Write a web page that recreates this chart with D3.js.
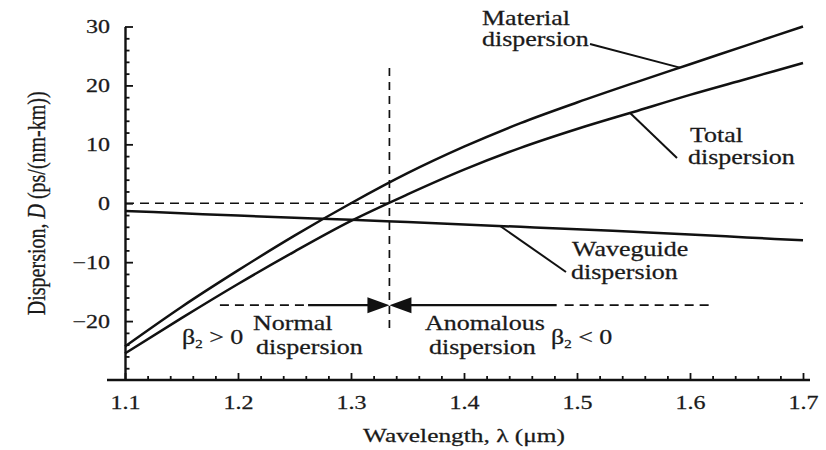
<!DOCTYPE html>
<html>
<head>
<meta charset="utf-8">
<script src="https://cdn.jsdelivr.net/npm/d3@7"></script>
<style>
  html, body { margin: 0; padding: 0; background: #fff; }
  svg { display: block; }
  text { font-family: "Liberation Serif", "Times New Roman", serif; fill: #1a1a1a; stroke: #1a1a1a; stroke-width: 0.25; }
</style>
</head>
<body>
<svg id="chart" width="826" height="450"></svg>
<script>
// ---- data ----
const wavelengths = [1.10, 1.15, 1.20, 1.25, 1.30, 1.35, 1.40, 1.45, 1.50, 1.55, 1.60, 1.65, 1.70];
const materialD   = [-24.3, -17.6, -11.4, -5.5, 0.0, 5.1, 9.6, 13.6, 17.1, 20.4, 23.6, 26.8, 30.0];
const totalD      = [-25.5, -19.5, -13.7, -8.2, -3.0, 1.5, 5.7, 9.4, 12.6, 15.5, 18.4, 21.1, 23.8];
const waveguideD  = [-1.3, -1.7, -2.1, -2.45, -2.8, -3.2, -3.6, -4.0, -4.4, -4.85, -5.3, -5.8, -6.3];
const xTicks = [1.1, 1.2, 1.3, 1.4, 1.5, 1.6, 1.7];
const yTicks = [-20, -10, 0, 10, 20, 30];
const zeroDispersionWavelength = 1.334;
const arrowLevel = -17.3;

// ---- layout ----
const svg = d3.select("#chart");
const SX = 1.3; // horizontal stretch of the lettering in the reference
const x = d3.scaleLinear().domain([1.1, 1.7]).range([125, 803]);
const y = d3.scaleLinear().domain([-30, 30]).range([380, 26.5]);

const xMinor = d3.range(1.1, 1.7001, 0.02).filter(v => !xTicks.some(t => Math.abs(t - v) < 1e-6));
const yMinor = d3.range(-28, 30.001, 2).filter(v => !yTicks.some(t => Math.abs(t - v) < 1e-6));

function interp(xs, ys, v) {
  const i = Math.max(1, Math.min(xs.length - 1, d3.bisectLeft(xs, v)));
  const t = (v - xs[i - 1]) / (xs[i] - xs[i - 1]);
  return ys[i - 1] + t * (ys[i] - ys[i - 1]);
}

function label(str, px, py, size, anchor) {
  return svg.append("text")
    .attr("transform", `translate(${px},${py}) scale(${SX},1)`)
    .attr("text-anchor", anchor || "start")
    .attr("font-size", size)
    .text(str);
}

// ---- reference lines (dashed) ----
svg.append("line")
  .attr("x1", x(1.1)).attr("x2", x(1.7))
  .attr("y1", y(0)).attr("y2", y(0))
  .attr("stroke", "#111").attr("stroke-width", 1.7).attr("stroke-dasharray", "9,6");

svg.append("line")
  .attr("x1", x(zeroDispersionWavelength)).attr("x2", x(zeroDispersionWavelength))
  .attr("y1", 68).attr("y2", 332)
  .attr("stroke", "#111").attr("stroke-width", 1.7).attr("stroke-dasharray", "8,6");

// ---- axes ----
const yAxis = svg.append("g").attr("transform", `translate(${x(1.1)},0)`)
  .call(d3.axisLeft(y).tickValues(yTicks).tickSize(-8).tickSizeOuter(0).tickPadding(16)
    .tickFormat(d => d < 0 ? "\u2212" + Math.abs(d) : d));
yAxis.select(".domain").attr("stroke-width", 2.4).attr("stroke", "#111");
yAxis.selectAll(".tick line").attr("stroke-width", 1.8).attr("stroke", "#111");
yAxis.selectAll(".tick text")
  .attr("x", null).attr("dy", "0.34em")
  .attr("transform", `translate(-15,0) scale(${SX},1)`)
  .attr("font-family", "Liberation Serif, serif").attr("font-size", 18.5).attr("fill", "#1a1a1a");

const yAxisMinor = svg.append("g").attr("transform", `translate(${x(1.1)},0)`)
  .call(d3.axisLeft(y).tickValues(yMinor).tickSize(-4.5).tickFormat(""));
yAxisMinor.select(".domain").remove();
yAxisMinor.selectAll(".tick line").attr("stroke-width", 1.8).attr("stroke", "#111");

const xAxis = svg.append("g").attr("transform", `translate(0,${y(-30)})`)
  .call(d3.axisBottom(x).tickValues(xTicks).tickSize(-7).tickSizeOuter(0).tickPadding(16)
    .tickFormat(d3.format(".1f")));
xAxis.select(".domain").remove();
xAxis.selectAll(".tick line").attr("stroke-width", 1.8).attr("stroke", "#111");
xAxis.selectAll(".tick text")
  .attr("transform", `scale(${SX},1)`)
  .attr("font-family", "Liberation Serif, serif").attr("font-size", 18.5).attr("fill", "#1a1a1a");

const xAxisMinor = svg.append("g").attr("transform", `translate(0,${y(-30)})`)
  .call(d3.axisBottom(x).tickValues(xMinor).tickSize(-4).tickFormat(""));
xAxisMinor.select(".domain").remove();
xAxisMinor.selectAll(".tick line").attr("stroke-width", 1.8).attr("stroke", "#111");

svg.append("line")
  .attr("x1", 107).attr("x2", 810)
  .attr("y1", y(-30)).attr("y2", y(-30))
  .attr("stroke", "#111").attr("stroke-width", 2.4);

// axis titles
svg.append("text")
  .attr("transform", `translate(${x(1.4)},442) scale(${SX},1)`)
  .attr("text-anchor", "middle").attr("font-size", 19.5)
  .text("Wavelength, \u03bb (\u03bcm)");

const yt = svg.append("text")
  .attr("transform", `translate(45,${y(0)}) rotate(-90) scale(1,${SX})`)
  .attr("text-anchor", "middle").attr("font-size", 20);
yt.append("tspan").text("Dispersion, ");
yt.append("tspan").attr("font-style", "italic").text("D");
yt.append("tspan").text(" (ps/(nm-km))");

// ---- curves ----
const line = d3.line().x(d => x(d[0])).y(d => y(d[1])).curve(d3.curveMonotoneX);
[materialD, totalD, waveguideD].forEach(series => {
  svg.append("path")
    .datum(wavelengths.map((w, i) => [w, series[i]]))
    .attr("d", line)
    .attr("fill", "none").attr("stroke", "#111").attr("stroke-width", 2.5);
});

// ---- leaders & labels ----
function leader(series, lam, px, py) {
  svg.append("line")
    .attr("x1", x(lam)).attr("y1", y(interp(wavelengths, series, lam)))
    .attr("x2", px).attr("y2", py)
    .attr("stroke", "#111").attr("stroke-width", 2);
}
leader(materialD, 1.591, 590, 44);
leader(totalD, 1.547, 677, 158);
leader(waveguideD, 1.432, 566, 272);

label("Material", 482, 25, 20);
label("dispersion", 482, 46, 20);
label("Total", 690, 142, 20);
label("dispersion", 688, 164, 20);
label("Waveguide", 572, 256, 20);
label("dispersion", 571, 279, 20);

label("Normal", 253, 330, 20);
label("dispersion", 256, 354, 20);
label("Anomalous", 425, 330, 20);
label("dispersion", 429, 354, 20);

function betaLabel(px, py, rel) {
  const t = svg.append("text")
    .attr("transform", `translate(${px},${py}) scale(${SX},1)`)
    .attr("font-size", 20);
  t.append("tspan").text("\u03b2");
  t.append("tspan").attr("font-size", 11.5).attr("dy", 4).text("2");
  t.append("tspan").attr("dy", -4).text(" " + rel + " 0");
}
betaLabel(182, 344, ">");
betaLabel(551, 344, "<");

// ---- arrows to the zero-dispersion wavelength ----
const ya = y(arrowLevel), x0 = x(zeroDispersionWavelength);
svg.append("line").attr("x1", x(1.184)).attr("x2", x(1.262)).attr("y1", ya).attr("y2", ya)
  .attr("stroke", "#111").attr("stroke-width", 1.7).attr("stroke-dasharray", "9,6");
svg.append("line").attr("x1", x(1.262)).attr("x2", x0 - 10).attr("y1", ya).attr("y2", ya)
  .attr("stroke", "#111").attr("stroke-width", 2.2);
svg.append("line").attr("x1", x0 + 10).attr("x2", x(1.482)).attr("y1", ya).attr("y2", ya)
  .attr("stroke", "#111").attr("stroke-width", 2.2);
svg.append("line").attr("x1", x(1.482) + 8).attr("x2", x(1.619)).attr("y1", ya).attr("y2", ya)
  .attr("stroke", "#111").attr("stroke-width", 1.7).attr("stroke-dasharray", "9,6");
svg.append("path").attr("d", `M${x0},${ya} L${x0 - 22},${ya - 8} L${x0 - 22},${ya + 8} Z`).attr("fill", "#111");
svg.append("path").attr("d", `M${x0},${ya} L${x0 + 22},${ya - 8} L${x0 + 22},${ya + 8} Z`).attr("fill", "#111");
</script>
</body>
</html>
